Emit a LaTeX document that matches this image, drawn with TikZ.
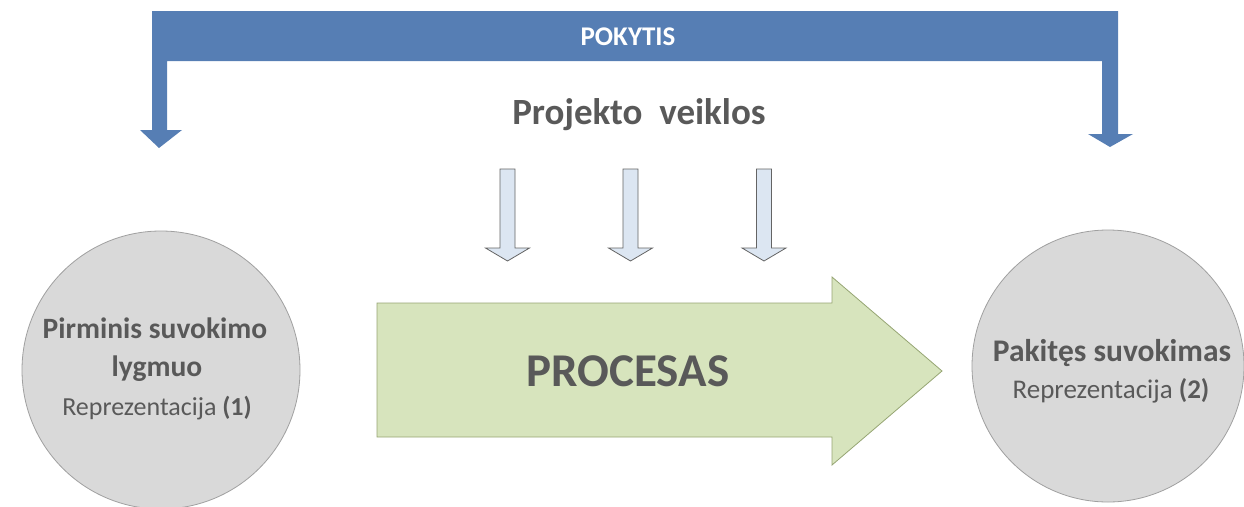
\documentclass[tikz,border=0pt]{standalone}
\usepackage{fontspec}
\setmainfont{Carlito}
\definecolor{barblue}{RGB}{86,126,180}
\definecolor{txtgray}{RGB}{89,89,89}
\definecolor{circfill}{RGB}{217,217,217}
\definecolor{circline}{RGB}{160,160,160}
\definecolor{procfill}{RGB}{215,228,189}
\definecolor{procline}{RGB}{150,165,115}
\definecolor{smallfill}{RGB}{220,230,242}
\definecolor{smallline}{RGB}{100,100,100}
\tikzset{
  txt/.style={text=txtgray, inner sep=0pt, align=center},
  circ/.style={circle, fill=circfill, draw=circline, line width=0.8pt, minimum size=278pt, inner sep=0pt},
  smallarrow/.style={fill=smallfill, draw=smallline, line width=0.8pt, line join=miter},
}
\begin{document}
\begin{tikzpicture}[x=1pt,y=-1pt]
\useasboundingbox (0,0) rectangle (1244,506);
% top blue bracket arrow
\fill[barblue] (152,11) -- (1118,11) -- (1118,134) -- (1133,134) -- (1110,147) -- (1088,134)
  -- (1102,134) -- (1102,61) -- (167,61) -- (167,130) -- (182,130) -- (159,148) -- (140,130)
  -- (152,130) -- cycle;
\node[txt, text=white, font=\bfseries\fontsize{27}{32}\selectfont] (pokytis) at (628,37) {POKYTIS};
% label
\node[txt, font=\bfseries\fontsize{37}{44}\selectfont] (veiklos) at (639,115) {Projekto\ \ veiklos};
% small arrows
\foreach \cx/\nm in {507.5/a1, 630.5/a2, 764/a3}{
  \draw[smallarrow] (\cx-7.5,169) -- (\cx+7.5,169) -- (\cx+7.5,248) -- (\cx+22,248) -- (\cx,261)
    -- (\cx-22,248) -- (\cx-7.5,248) -- cycle;
}
% circles
\node[circ] (c1) at (161,370) {};
\node[circ, minimum size=272pt] (c2) at (1108,366) {};
\node[txt, font=\bfseries\fontsize{29.5}{36}\selectfont] (c1a) at (155,328) {Pirminis suvokimo};
\node[txt, font=\bfseries\fontsize{29.5}{36}\selectfont] (c1b) at (157,369) {lygmuo};
\node[txt, font=\fontsize{26}{30}\selectfont] (c1c) at (157,408) {Reprezentacija \textbf{(1)}};
\node[txt, font=\bfseries\fontsize{31.5}{36}\selectfont] (c2a) at (1112,353) {Pakitęs suvokimas};
\node[txt, font=\fontsize{27}{32}\selectfont] (c2b) at (1111,391) {Reprezentacija \textbf{(2)}};
% process arrow
\draw[fill=procfill, draw=procline, line width=0.8pt] (377,303) -- (832,303) -- (832,277) -- (942,371)
  -- (832,465) -- (832,437) -- (377,437) -- cycle;
\node[txt, font=\bfseries\fontsize{47}{56}\selectfont] (proc) at (628,371) {PROCESAS};
\end{tikzpicture}
\end{document}
